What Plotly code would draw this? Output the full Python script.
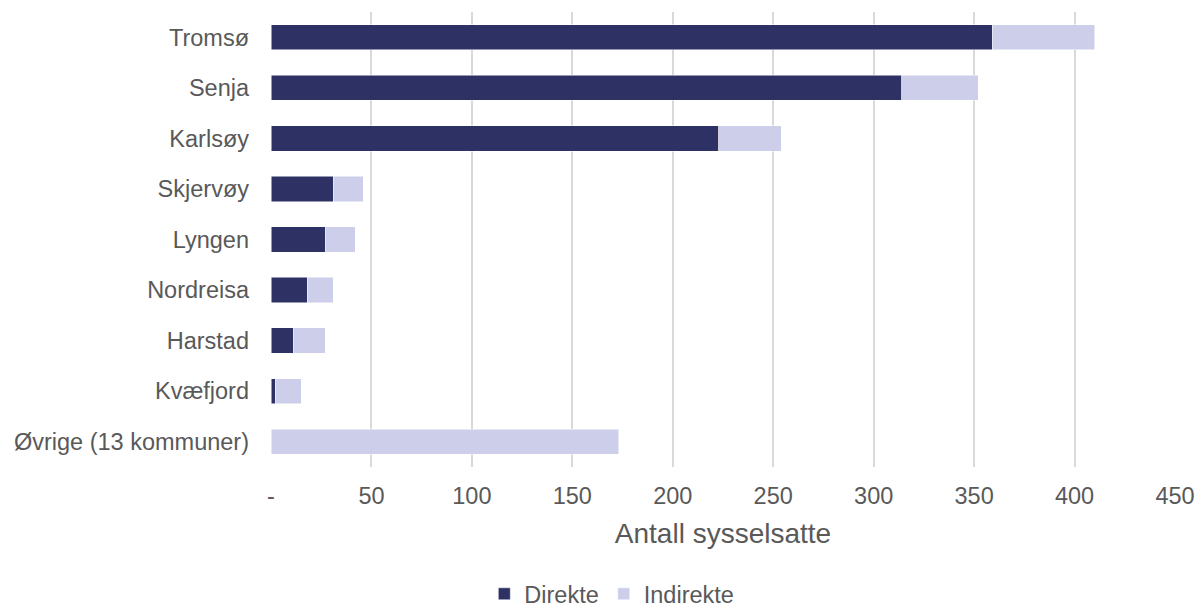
import plotly.graph_objects as go

kommuner = ["Tromsø", "Senja", "Karlsøy", "Skjervøy", "Lyngen", "Nordreisa",
            "Harstad", "Kvæfjord", "Øvrige (13 kommuner)"]
direkte = [359, 314, 223, 31, 27, 18, 11, 2, 0]
indirekte = [51, 38, 31, 15, 15, 13, 16, 13, 173]

tickvals = [0, 50, 100, 150, 200, 250, 300, 350, 400, 450]
ticktext = ["-", "50", "100", "150", "200", "250", "300", "350", "400", "450"]

fig = go.Figure()
fig.add_trace(go.Bar(y=kommuner, x=direkte, name="Direkte", orientation="h",
                     marker=dict(color="#2E3163", line=dict(color="white", width=0.5))))
fig.add_trace(go.Bar(y=kommuner, x=indirekte, name="Indirekte", orientation="h",
                     marker=dict(color="#CDCEEA", line=dict(color="white", width=0.5))))

fig.update_layout(
    barmode="stack", bargap=0.5,
    width=1199, height=609,
    margin=dict(l=271, r=24, t=12, b=142, autoexpand=False),
    plot_bgcolor="white", paper_bgcolor="white",
    font=dict(family="Liberation Sans, Arial", size=23.5, color="#595959"),
    legend=dict(orientation="h", x=0.377, xanchor="center",
                yref="container", y=1 - 594 / 609, yanchor="middle",
                font=dict(size=23.5), traceorder="normal", itemwidth=30),
)
fig.update_xaxes(range=[0, 450], tickvals=tickvals, ticktext=ticktext,
                 showgrid=True, gridcolor="#D9D9D9", gridwidth=2,
                 zeroline=False, ticks="outside", ticklen=8, tickcolor="white",
                 automargin=False,
                 title=dict(text="Antall sysselsatte", standoff=15))
fig.update_yaxes(autorange="reversed", showgrid=False, automargin=False,
                 ticklabelstandoff=21)

# drop the default 8px page margin so the figure fills the window
fig.write_html("out.html", config={"displayModeBar": False},
               post_script="document.body.style.margin='0';")
